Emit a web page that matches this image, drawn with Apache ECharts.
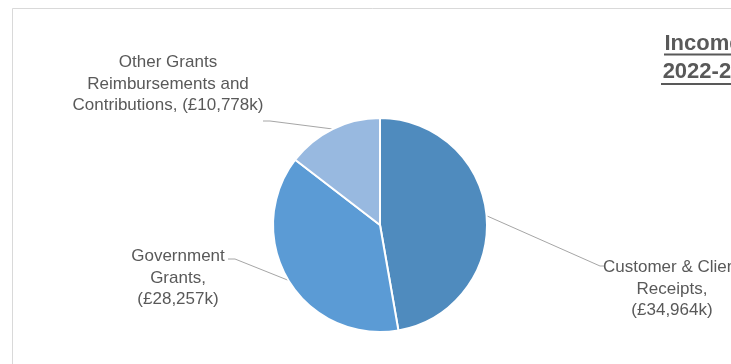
<!DOCTYPE html>
<html>
<head>
<meta charset="utf-8">
<script src="https://cdn.jsdelivr.net/npm/echarts@6/dist/echarts.min.js"></script>
<style>
html,body{margin:0;padding:0;background:#fff;}
#chart{width:731px;height:364px;}
</style>
</head>
<body>
<div id="chart"></div>
<script>
const categories = ['Customer & Client\nReceipts,', 'Government\nGrants,', 'Other Grants\nReimbursements and\nContributions,'];
const values = [34964, 28257, 10778];
const valueLabels = ['(£34,964k)', '(£28,257k)', '(£10,778k)'];
const colors = ['#4f8bbe', '#5b9bd5', '#98b9e0'];
const titleLines = ['Income', '2022-23'];

// label layout (positions only)
const labelPos = [
  {x: 672, y: 289},
  {x: 178, y: 278},
  {x: 168, y: 84}
];
// label line end segments: [bend point, end point]
const lineEnds = [
  [[600, 266], [605, 266]],
  [[235, 259], [228, 259]],
  [[270, 121], [263, 121]]
];

const chart = echarts.init(document.getElementById('chart'));
const FONT = 'Liberation Sans';
chart.setOption({
  animation: false,
  backgroundColor: '#ffffff',
  graphic: [
    {type: 'rect', shape: {x: 12.5, y: 8.5, width: 1000, height: 1000}, style: {fill: 'none', stroke: '#d9d9d9', lineWidth: 1}, silent: true, z: -1},
    {type: 'text', x: 703, y: 44, style: {text: titleLines[0], fill: '#595959', font: 'bold 22px "Liberation Sans"', align: 'center', verticalAlign: 'middle'}},
    {type: 'text', x: 703, y: 72, style: {text: titleLines[1], fill: '#595959', font: 'bold 22px "Liberation Sans"', align: 'center', verticalAlign: 'middle'}},
    {type: 'line', shape: {x1: 664, y1: 54.5, x2: 740, y2: 54.5}, style: {stroke: '#595959', lineWidth: 2}},
    {type: 'line', shape: {x1: 661, y1: 84, x2: 740, y2: 84}, style: {stroke: '#595959', lineWidth: 2}}
  ],
  series: [{
    type: 'pie',
    center: [380, 225],
    radius: 107,
    startAngle: 90,
    clockwise: true,
    data: categories.map((c, i) => ({name: c, value: values[i], itemStyle: {color: colors[i]}})),
    itemStyle: {borderColor: '#ffffff', borderWidth: 2},
    label: {
      show: true,
      formatter: p => p.name + (p.dataIndex === 2 ? ' ' : '\n') + valueLabels[p.dataIndex],
      color: '#595959',
      fontFamily: FONT,
      fontSize: 17,
      lineHeight: 21.5,
      align: 'center'
    },
    labelLine: {show: true, length: 10, length2: 0, lineStyle: {color: '#a6a6a6', width: 1}},
    labelLayout: function (params) {
      const i = params.dataIndex;
      const p = labelPos[i];
      const start = params.labelLinePoints ? params.labelLinePoints[0] : null;
      const res = {x: p.x, y: p.y, align: 'center', verticalAlign: 'middle'};
      if (start) res.labelLinePoints = [start, lineEnds[i][0], lineEnds[i][1]];
      return res;
    },
    emphasis: {disabled: true}
  }]
});
</script>
</body>
</html>
